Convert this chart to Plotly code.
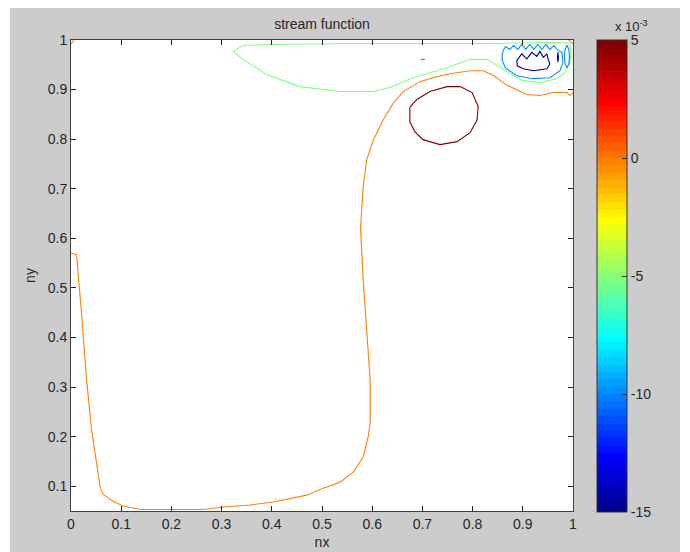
import numpy as np
import plotly.graph_objects as go

# ---------------- data ----------------
title_text = "stream function"
x_label = "nx"
y_label = "ny"

c_min, c_max = -0.015, 0.005
cbar_tickvals = [-0.015, -0.010, -0.005, 0.0, 0.005]
cbar_ticktext = ["-15", "-10", "-5", "0", "5"]
x_tickvals = [0, 0.1, 0.2, 0.3, 0.4, 0.5, 0.6, 0.7, 0.8, 0.9, 1]
x_ticktext = ["0", "0.1", "0.2", "0.3", "0.4", "0.5", "0.6", "0.7", "0.8", "0.9", "1"]
y_tickvals = [0.1, 0.2, 0.3, 0.4, 0.5, 0.6, 0.7, 0.8, 0.9, 1]
y_ticktext = ["0.1", "0.2", "0.3", "0.4", "0.5", "0.6", "0.7", "0.8", "0.9", "1"]

# contour level 0 (orange)
lvl0_main_x = [0.0, 0.011, 0.021, 0.031, 0.041, 0.058, 0.064, 0.078, 0.091, 0.104, 0.124, 0.137,
               0.203, 0.263, 0.303, 0.357, 0.402, 0.470, 0.502, 0.536, 0.563, 0.582, 0.592, 0.596,
               0.596, 0.589, 0.582, 0.577, 0.577, 0.582, 0.589, 0.602, 0.622, 0.642, 0.662, 0.695,
               0.728, 0.762, 0.795, 0.821, 0.841, 0.868, 0.894, 0.908, 0.934, 0.960, 0.988, 0.994, 1.0]
lvl0_main_y = [0.570, 0.567, 0.449, 0.315, 0.214, 0.098, 0.084, 0.073, 0.066, 0.060, 0.056, 0.053,
               0.053, 0.053, 0.058, 0.062, 0.068, 0.082, 0.096, 0.108, 0.129, 0.159, 0.200, 0.227,
               0.314, 0.415, 0.516, 0.617, 0.624, 0.704, 0.758, 0.798, 0.839, 0.873, 0.896, 0.916,
               0.926, 0.933, 0.938, 0.938, 0.929, 0.909, 0.896, 0.890, 0.888, 0.894, 0.894, 0.888, 0.894]
lvl0_tl_x = [0.0, 0.006]
lvl0_tl_y = [0.992, 1.0]
lvl0_tr_x = [0.992, 1.0]
lvl0_tr_y = [1.0, 0.992]

# contour level -5e-3 (green)
lvlm5_x = [0.323, 0.343, 0.396, 0.556, 0.755, 0.855, 0.934, 0.974, 0.994, 0.996, 0.994, 0.984,
           0.968, 0.934, 0.900, 0.874, 0.861, 0.829, 0.795, 0.749, 0.681, 0.635, 0.602, 0.536,
           0.456, 0.390, 0.343, 0.323]
lvlm5_y = [0.977, 0.989, 0.991, 0.993, 0.993, 0.993, 0.995, 0.995, 0.993, 0.975, 0.955, 0.934,
           0.922, 0.914, 0.918, 0.932, 0.942, 0.961, 0.961, 0.944, 0.924, 0.904, 0.896, 0.896,
           0.906, 0.930, 0.961, 0.977]

# contour level -10e-3 (light blue)
lvlm10_main_x = [0.859, 0.861, 0.866, 0.874, 0.882, 0.890, 0.898, 0.906, 0.914, 0.922, 0.930, 0.938,
                 0.946, 0.954, 0.962, 0.970, 0.978, 0.980, 0.974, 0.954, 0.920, 0.888, 0.865, 0.859, 0.859]
lvlm10_main_y = [0.969, 0.979, 0.987, 0.981, 0.989, 0.981, 0.991, 0.981, 0.991, 0.981, 0.991, 0.981,
                 0.991, 0.981, 0.989, 0.979, 0.975, 0.955, 0.938, 0.924, 0.922, 0.928, 0.944, 0.959, 0.969]
lvlm10_right_x = [0.988, 0.992, 0.993, 0.992, 0.988, 0.984, 0.983, 0.984, 0.988]
lvlm10_right_y = [0.990, 0.980, 0.967, 0.953, 0.944, 0.953, 0.967, 0.980, 0.990]
lvlm10_dash_x = [0.697, 0.705]
lvlm10_dash_y = [0.961, 0.961]

# contour level -15e-3 (dark blue)
lvlm15_main_x = [0.888, 0.898, 0.908, 0.918, 0.928, 0.934, 0.941, 0.948, 0.951, 0.954, 0.948,
                 0.921, 0.901, 0.889, 0.888]
lvlm15_main_y = [0.959, 0.972, 0.962, 0.975, 0.967, 0.977, 0.965, 0.972, 0.959, 0.952, 0.942,
                 0.938, 0.942, 0.948, 0.959]
lvlm15_bar_x = [0.970, 0.971, 0.970, 0.969, 0.970]
lvlm15_bar_y = [0.955, 0.965, 0.975, 0.965, 0.955]

# contour level +5e-3 (dark red)
lvlp5_x = [0.675, 0.689, 0.715, 0.749, 0.775, 0.799, 0.811, 0.809, 0.795, 0.769, 0.735, 0.701,
           0.685, 0.675, 0.675]
lvlp5_y = [0.864, 0.880, 0.896, 0.906, 0.906, 0.894, 0.866, 0.839, 0.813, 0.795, 0.789, 0.799,
           0.815, 0.835, 0.864]

contour_paths = [
    (0.0, lvl0_main_x, lvl0_main_y),
    (0.0, lvl0_tl_x, lvl0_tl_y),
    (0.0, lvl0_tr_x, lvl0_tr_y),
    (-0.005, lvlm5_x, lvlm5_y),
    (-0.010, lvlm10_main_x, lvlm10_main_y),
    (-0.010, lvlm10_right_x, lvlm10_right_y),
    (-0.010, lvlm10_dash_x, lvlm10_dash_y),
    (-0.015, lvlm15_main_x, lvlm15_main_y),
    (-0.015, lvlm15_bar_x, lvlm15_bar_y),
    (0.005, lvlp5_x, lvlp5_y),
]


# ---------------- colormap (MATLAB jet, 64 steps) ----------------
def matlab_jet(m=64):
    n = int(np.ceil(m / 4))
    u = np.concatenate([np.arange(1, n + 1) / n, np.ones(n - 1), np.arange(n, 0, -1) / n])
    g = int(np.ceil(n / 2)) - (1 if m % 4 == 1 else 0) + np.arange(1, len(u) + 1)
    r = g + n
    b = g - n
    J = np.zeros((m, 3))
    k = r <= m
    J[r[k] - 1, 0] = u[k]
    k = (g <= m) & (g >= 1)
    J[g[k] - 1, 1] = u[k]
    k = b >= 1
    J[b[k] - 1, 2] = u[k]
    return J


JET = matlab_jet(64)


def rgb(c):
    return "rgb(%d,%d,%d)" % tuple(int(round(v * 255)) for v in c)


def level_color(v):
    idx = int(round((v - c_min) / (c_max - c_min) * (len(JET) - 1)))
    idx = max(0, min(len(JET) - 1, idx))
    return rgb(JET[idx])


colorscale = []
for i, c in enumerate(JET):
    colorscale.append([i / len(JET), rgb(c)])
    colorscale.append([(i + 1) / len(JET), rgb(c)])

# ---------------- geometry (figure pixels; page adds an 8px body margin) ----------------
W, H = 690, 552
PL, PR, PT, PB = 63, 565, 32, 503          # plot area edges
PW, PH = PR - PL, PB - PT
CB_L, CB_T, CB_LEN, CB_TH = 589, 32, 472, 30  # colorbar box


def px_to_paper_x(px):
    return (px - PL) / PW


def py_to_paper_y(py):
    return 1 - (py - PT) / PH


FONT = "Liberation Sans, Arial, sans-serif"
TXT = "#262626"

fig = go.Figure()
for lvl, xs, ys in contour_paths:
    fig.add_trace(go.Scatter(x=xs, y=ys, mode="lines",
                             line=dict(color=level_color(lvl), width=1.1),
                             showlegend=False, hoverinfo="skip"))

fig.add_trace(go.Scatter(
    x=[None], y=[None], mode="markers", showlegend=False, hoverinfo="skip",
    marker=dict(color=[c_min], cmin=c_min, cmax=c_max, colorscale=colorscale, showscale=True,
                colorbar=dict(x=px_to_paper_x(CB_L), xanchor="left", xpad=0,
                              y=py_to_paper_y(CB_T + CB_LEN / 2), yanchor="middle", ypad=0,
                              len=CB_LEN, lenmode="pixels", thickness=CB_TH,
                              thicknessmode="pixels",
                              outlinewidth=1, outlinecolor="#333333",
                              ticks="inside", ticklen=5, tickcolor="#222222",
                              tickvals=cbar_tickvals, ticktext=cbar_ticktext,
                              tickfont=dict(family=FONT, size=14, color=TXT)))))

axis_common = dict(showline=True, linecolor="#404040", linewidth=1, mirror="ticks",
                   ticks="inside", ticklen=5, tickcolor="#222222", showgrid=False,
                   zeroline=False, tickfont=dict(family=FONT, size=14, color=TXT))

# left-side colorbar ticks (MATLAB draws ticks on both sides)
cb_shapes = []
for v in cbar_tickvals[1:-1]:
    py = CB_T + (c_max - v) / (c_max - c_min) * CB_LEN
    cb_shapes.append(dict(type="line", xref="paper", yref="paper",
                          x0=px_to_paper_x(CB_L), x1=px_to_paper_x(CB_L + 5),
                          y0=py_to_paper_y(py), y1=py_to_paper_y(py),
                          line=dict(color="#222222", width=1), layer="above"))

fig.update_layout(
    width=W, height=H,
    margin=dict(l=PL, r=W - PR, t=PT, b=H - PB, autoexpand=False),
    paper_bgcolor="#cccccc", plot_bgcolor="#ffffff",
    title=dict(text=title_text, x=0.5, xref="paper", xanchor="center",
               y=1 - 16 / H, yanchor="middle",
               font=dict(family=FONT, size=14, color=TXT)),
    xaxis=dict(range=[0, 1], tickvals=x_tickvals, ticktext=x_ticktext,
               title=dict(text=x_label, standoff=6, font=dict(family=FONT, size=14, color=TXT)),
               **axis_common),
    yaxis=dict(range=[0.05, 1], tickvals=y_tickvals, ticktext=y_ticktext,
               title=dict(text=y_label, standoff=8, font=dict(family=FONT, size=14, color=TXT)),
               **axis_common),
    annotations=[dict(text="x 10<sup>-3</sup>", xref="paper", yref="paper",
                      x=px_to_paper_x(605), y=py_to_paper_y(18), xanchor="left",
                      yanchor="middle", showarrow=False,
                      font=dict(family=FONT, size=13, color=TXT))],
    shapes=[
        dict(type="rect", xref="paper", yref="paper", x0=-0.3, x1=px_to_paper_x(2),
             y0=-0.3, y1=1.3, fillcolor="#ffffff", line=dict(width=0), layer="above"),
        dict(type="rect", xref="paper", yref="paper", x0=px_to_paper_x(672), x1=1.5,
             y0=-0.3, y1=1.3, fillcolor="#ffffff", line=dict(width=0), layer="above"),
    ] + cb_shapes,
)

fig.write_html("out.html")
